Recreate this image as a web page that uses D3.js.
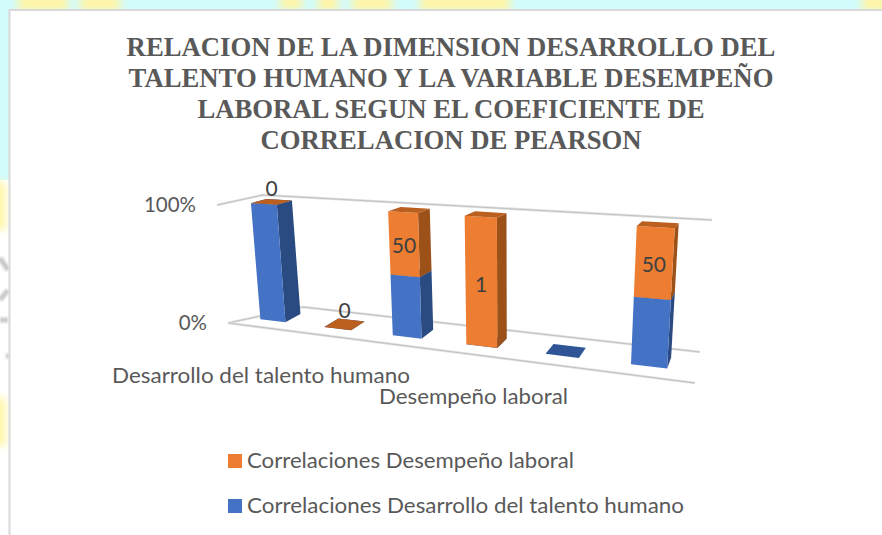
<!DOCTYPE html>
<html><head><meta charset="utf-8">
<script src="https://cdn.jsdelivr.net/npm/d3@7"></script>
<style>html,body{margin:0;padding:0;background:#fff}svg{display:block}</style>
</head><body><svg id="c" width="882" height="535"></svg>
<script>
const titleLines = ["RELACION DE LA DIMENSION DESARROLLO DEL","TALENTO HUMANO Y LA VARIABLE DESEMPEÑO","LABORAL SEGUN EL COEFICIENTE DE","CORRELACION DE PEARSON"];
const categories = ["Desarrollo del talento humano","b","c","Desempeño laboral","e","f"];
const desarrollo = [1,0,50,0,0,50];
const desempeno  = [0,0,50,1,null,50];
const seriesNames = ["Correlaciones Desarrollo del talento humano","Correlaciones Desempeño laboral"];
const yTicks = [0,1];

const svg = d3.select("#c");
const W=882,H=535;
const FONT="Lato,'Open Sans',sans-serif";

// ---- background of the scanned page
const defs = svg.append("defs");
defs.append("filter").attr("id","bl").attr("x","-50%").attr("y","-50%").attr("width","200%").attr("height","200%")
  .append("feGaussianBlur").attr("stdDeviation",4);
svg.append("rect").attr("width",W).attr("height",H).attr("fill","#fff");
svg.append("rect").attr("width",W).attr("height",9).attr("fill","#d2fbfb");
svg.append("rect").attr("width",9).attr("y",0).attr("height",180).attr("fill","#d2fbfb");
const bg = svg.append("g").attr("filter","url(#bl)");
[[18,-6,50,18],[80,-6,40,18],[280,-6,22,16],[318,-6,20,18],[352,-6,40,18],[420,-6,90,18],[862,-6,30,18]]
 .forEach(r=>bg.append("rect").attr("x",r[0]).attr("y",r[1]).attr("width",r[2]).attr("height",r[3]).attr("fill","#fff5a8"));
[[-8,182,14,48],[-8,398,14,48]].forEach(r=>bg.append("rect").attr("x",r[0]).attr("y",r[1]).attr("width",r[2]).attr("height",r[3]).attr("fill","#fff5a8"));
svg.append("path").attr("d","M0 258L8 270M0 300L8 290M0 320H8M6 356h3").attr("stroke","#c9c9c9").attr("stroke-width",5).attr("fill","none").style("filter","blur(1px)");
svg.append("rect").attr("x",9).attr("y",9).attr("width",W).attr("height",H).attr("fill","#fff");
svg.append("path").attr("d",`M${W} 10H9.5V${H}`).attr("fill","none").attr("stroke","#d9d9d9").attr("stroke-width",2);

// ---- title
svg.append("g").selectAll("text").data(titleLines).join("text")
  .attr("x",451).attr("y",(d,i)=>56+i*31).attr("text-anchor","middle")
  .attr("font-family","'Liberation Serif',serif").attr("font-weight","bold").attr("font-size",26.7).attr("fill","#595959").text(d=>d);

// ---- 3D projection helpers
function quadMap(q){
  const [[x0,y0],[x1,y1],[x2,y2],[x3,y3]]=q;
  const dx1=x1-x2,dx2=x3-x2,sx=x0-x1+x2-x3,dy1=y1-y2,dy2=y3-y2,sy=y0-y1+y2-y3;
  const D=dx1*dy2-dx2*dy1,g=(sx*dy2-dx2*sy)/D,h=(dx1*sy-sx*dy1)/D;
  const a=x1-x0+g*x1,b=x3-x0+h*x3,c=x0,d=y1-y0+g*y1,e=y3-y0+h*y3,f=y0;
  return (u,v)=>{const k=g*u+h*v+1;return [(a*u+b*v+c)/k,(d*u+e*v+f)/k];};
}
const frontPlane = quadMap([[242,317],[695,372],[704,230],[232,202]]);
const backPlane  = quadMap([[258,309],[698,361],[707,225],[248,198]]);
const xScale = d3.scaleBand().domain(d3.range(categories.length)).range([0,1]).paddingInner(0.6).paddingOuter(0.3);
const yScale = d3.scaleLinear().domain([0,1]).range([0,1]);
function P(u,v,w){
  const a=frontPlane(u,v),b=backPlane(u,v);
  return [a[0]+(b[0]-a[0])*w,a[1]+(b[1]-a[1])*w];
}

// ---- walls / gridlines
const wall = {fl:[228,323],bl:[303,307],br:[700,352],fr:[695,383],tfl:[217,205],tbl:[263,195],tbr:[712,220]};
const mix=(a,b,t)=>[a[0]+(b[0]-a[0])*t,a[1]+(b[1]-a[1])*t];
const line=d3.line();
const grid=svg.append("g").attr("fill","none");
function gl(pts){
  grid.append("path").attr("d",line(pts)).attr("stroke","#e0e0e0").attr("stroke-width",2.6);
  grid.append("path").attr("d",line(pts)).attr("stroke","#b4b4b4").attr("stroke-width",0.7);
}
yTicks.forEach(t=>gl([mix(wall.fl,wall.tfl,yScale(t)),mix(wall.bl,wall.tbl,yScale(t)),mix(wall.br,wall.tbr,yScale(t))]));
gl([wall.fl,wall.fr]);

// ---- y tick labels
svg.append("g").selectAll("text").data(yTicks).join("text")
  .attr("x",d=>mix(wall.fl,wall.tfl,yScale(d))[0]-21).attr("y",d=>mix(wall.fl,wall.tfl,yScale(d))[1]+7)
  .attr("text-anchor","end").attr("font-family",FONT).attr("font-size",20.5).attr("fill","#595959")
  .text(d=>d3.format(".0%")(d));

// ---- bars
const rows=categories.map((c,i)=>({i,a:desarrollo[i],b:desempeno[i]}));
const stack=d3.stack().keys(["a","b"]).offset(d3.stackOffsetExpand)(rows);
const colors=[{front:"#4472c4",side:"#2a4a82",top:"#2f5597"},{front:"#ed7d31",side:"#9c5119",top:"#bb5f1e"}];
const srcVals=[desarrollo,desempeno];
const bars=svg.append("g");
const poly=(pts,fill)=>bars.append("path").attr("d",line(pts)+"Z").attr("fill",fill);
stack.forEach((s,si)=>{
  s.forEach((seg,i)=>{
    if(srcVals[si][i]===null) return;
    const u0=xScale(i), u1=u0+xScale.bandwidth();
    const y0=yScale(seg[0]),y1=yScale(seg[1]);
    if(y1>y0){
      poly([P(u1,y0,0),P(u1,y0,1),P(u1,y1,1),P(u1,y1,0)],colors[si].side);
      poly([P(u0,y0,0),P(u1,y0,0),P(u1,y1,0),P(u0,y1,0)],colors[si].front);
    }
    poly([P(u0,y1,0),P(u1,y1,0),P(u1,y1,1),P(u0,y1,1)],colors[si].top);
  });
});

// ---- data labels (second series only)
const lab=svg.append("g").attr("font-family",FONT).attr("font-size",21).attr("fill","#404040").attr("text-anchor","middle");
stack[1].forEach((seg,i)=>{
  if(desempeno[i]===null) return;
  const uc=xScale(i)+xScale.bandwidth()/2,h=seg[1]-seg[0];
  const p=h>0?P(uc,yScale((seg[0]+seg[1])/2),0):P(uc,yScale(seg[1]),0.5);
  lab.append("text").attr("x",p[0]).attr("y",p[1]+(h>0?9:-6)).text(desempeno[i]);
});

// ---- category labels
const catLab=[{i:0,x:112,y:383,len:298},{i:3,x:379,y:404,len:189}];
svg.append("g").selectAll("text").data(catLab).join("text")
  .attr("x",d=>d.x).attr("y",d=>d.y).attr("textLength",d=>d.len).attr("lengthAdjust","spacingAndGlyphs")
  .attr("font-family",FONT).attr("font-size",20.5).attr("fill","#595959").text(d=>categories[d.i]);

// ---- legend
const leg=[{s:1,y:454,len:327},{s:0,y:499,len:437}];
const lg=svg.append("g");
lg.selectAll("rect").data(leg).join("rect").attr("x",228).attr("y",d=>d.y).attr("width",14).attr("height",14).attr("fill",d=>colors[d.s].front);
lg.selectAll("text").data(leg).join("text").attr("x",247).attr("y",d=>d.y+13.5).attr("textLength",d=>d.len).attr("lengthAdjust","spacingAndGlyphs")
  .attr("font-family",FONT).attr("font-size",20.5).attr("fill","#595959").text(d=>seriesNames[d.s]);
</script></body></html>
